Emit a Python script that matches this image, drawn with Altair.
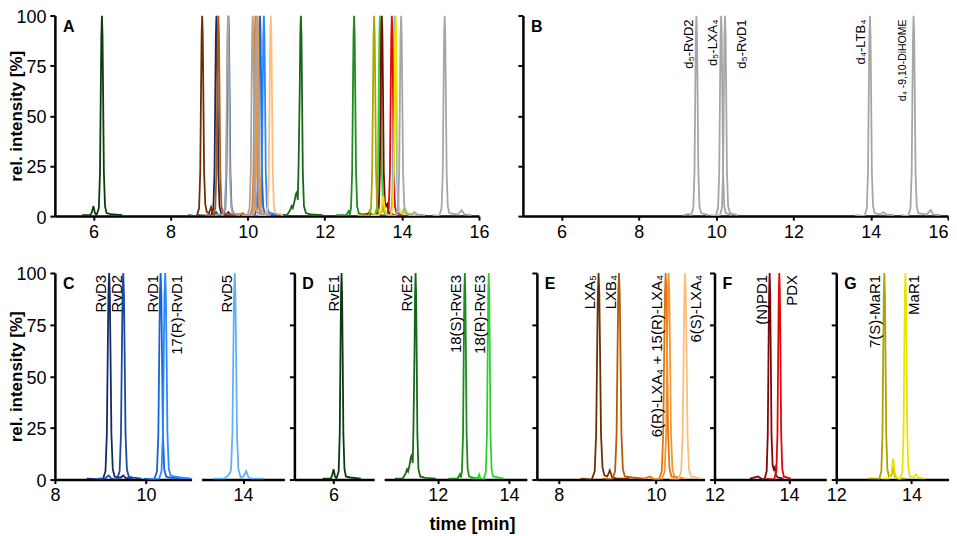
import altair as alt
import pandas as pd

FONT = "Liberation Sans"

# ---------------- trace data (time [min], rel. intensity [%]) ----------------
trace_names = ["RvD3", "RvD2", "RvD1", "17(R)-RvD1", "RvD5",
               "RvE1", "RvE2", "18(S)-RvE3", "18(R)-RvE3",
               "LXA5", "LXB4", "6(R)-LXA4", "15(R)-LXA4", "6(S)-LXA4",
               "(N)PD1", "PDX", "7(S)-MaR1", "MaR1",
               "d5-RvD2", "d5-LXA4", "d5-RvD1", "d4-LTB4", "d4-9,10-DiHOME"]
trace_panels = ["C", "C", "C", "C", "C",
                "D", "D", "D", "D",
                "E", "E", "E", "E", "E",
                "F", "F", "G", "G",
                "B", "B", "B", "B", "B"]
trace_colors = ["#152a66", "#1b4aa0", "#1662d8", "#2b88ff", "#62b0f8",
                "#0d3b10", "#1a6618", "#1f8a1d", "#2fd12f",
                "#6b3000", "#b65a08", "#e8720f", "#f3962f", "#ffbd7a",
                "#7c0808", "#e0080a", "#aca400", "#e8e400",
                "#a6a6a6", "#a6a6a6", "#a6a6a6", "#a6a6a6", "#a6a6a6"]

t_rvd3 = [8.70, 9.05, 9.11, 9.14, 9.16, 9.175, 9.19, 9.205, 9.22, 9.24, 9.27, 9.31, 9.37, 9.45, 9.50, 9.55, 9.70]
y_rvd3 = [0.5, 0, 4, 22, 62, 90, 100, 90, 62, 22, 5, 1.5, 1, 1, 2, 0.8, 0.5]

t_rvd2 = [8.95, 9.10, 9.18, 9.24, 9.36, 9.42, 9.45, 9.47, 9.485, 9.50, 9.515, 9.53, 9.55, 9.58, 9.62, 9.68, 9.90]
y_rvd2 = [0.5, 0.5, 2, 0.5, 0, 4, 22, 62, 90, 100, 90, 62, 22, 5, 1.5, 1, 0.5]

t_rvd1 = [9.95, 10.18, 10.24, 10.27, 10.29, 10.305, 10.32, 10.335, 10.35, 10.37, 10.40, 10.44, 10.50, 10.80]
y_rvd1 = [0.5, 0, 4, 22, 62, 90, 100, 90, 62, 22, 5, 1.5, 1, 0.5]

t_17rrvd1 = [10.05, 10.28, 10.34, 10.37, 10.39, 10.405, 10.42, 10.435, 10.45, 10.47, 10.50, 10.54, 10.60, 10.75, 11.0]
y_17rrvd1 = [0.5, 0, 4, 22, 62, 90, 100, 90, 62, 22, 5, 2, 1.5, 1, 0.5]

t_rvd5 = [13.35, 13.60, 13.68, 13.72, 13.74, 13.77, 13.79, 13.805, 13.82, 13.835, 13.85, 13.87, 13.90, 13.95, 14.01, 14.07, 14.12, 14.20, 14.45]
y_rvd5 = [0.5, 0.5, 2, 3.5, 5, 22, 62, 90, 100, 90, 62, 22, 5, 1, 1.5, 4, 1, 0.5, 0.5]

t_rve1 = [5.70, 5.92, 5.96, 6.00, 6.04, 6.08, 6.14, 6.17, 6.19, 6.205, 6.22, 6.235, 6.25, 6.27, 6.30, 6.34, 6.45, 6.75]
y_rve1 = [0.5, 0.5, 2, 5, 1.5, 0.5, 4, 22, 62, 90, 100, 90, 62, 22, 5, 1.5, 1, 0.5]

t_rve2 = [10.80, 11.02, 11.10, 11.14, 11.17, 11.21, 11.25, 11.28, 11.30, 11.32, 11.35, 11.365, 11.38, 11.395, 11.41, 11.43, 11.46, 11.51, 11.65, 11.95]
y_rve2 = [0.5, 0.5, 3, 5, 4, 7, 11, 12, 8, 25, 62, 90, 100, 90, 62, 22, 5, 1.5, 0.8, 0.5]

t_18srve3 = [12.30, 12.56, 12.62, 12.65, 12.68, 12.71, 12.73, 12.745, 12.76, 12.775, 12.79, 12.81, 12.84, 12.88, 12.95, 13.15]
y_18srve3 = [0.5, 0.5, 2.5, 1, 4, 22, 62, 90, 100, 90, 62, 22, 5, 1.5, 1, 0.5]

t_18rrve3 = [12.95, 13.12, 13.16, 13.20, 13.29, 13.35, 13.38, 13.40, 13.415, 13.43, 13.445, 13.46, 13.48, 13.51, 13.55, 13.85]
y_18rrve3 = [0.5, 0.5, 2.5, 0.5, 0, 4, 22, 62, 90, 100, 90, 62, 22, 5, 1.5, 0.5]

t_lxa5 = [8.45, 8.68, 8.74, 8.77, 8.79, 8.805, 8.82, 8.835, 8.85, 8.87, 8.90, 8.94, 9.00, 9.05, 9.10, 9.20, 9.45]
y_lxa5 = [0.5, 0, 4, 22, 62, 90, 100, 90, 62, 22, 6, 2, 1.5, 4.5, 1, 0.5, 0.5]

t_lxb4 = [8.90, 9.10, 9.16, 9.19, 9.21, 9.225, 9.24, 9.255, 9.27, 9.29, 9.32, 9.36, 9.50, 9.75]
y_lxb4 = [0.5, 0, 4, 22, 62, 90, 100, 90, 62, 22, 5, 1.5, 1, 0.5]

t_6rlxa4 = [9.75, 9.88, 9.95, 10.06, 10.12, 10.15, 10.17, 10.185, 10.20, 10.215, 10.23, 10.25, 10.28, 10.32, 10.50]
y_6rlxa4 = [0.5, 1.5, 0.5, 0, 4, 22, 62, 90, 100, 90, 62, 22, 5, 1.5, 0.5]

t_15rlxa4 = [9.90, 10.12, 10.18, 10.21, 10.23, 10.245, 10.26, 10.275, 10.29, 10.31, 10.34, 10.38, 10.60]
y_15rlxa4 = [0.5, 0, 4, 22, 62, 90, 100, 90, 62, 22, 5, 1.5, 0.5]

t_6slxa4 = [10.27, 10.46, 10.52, 10.55, 10.57, 10.585, 10.60, 10.615, 10.63, 10.65, 10.68, 10.72, 10.92]
y_6slxa4 = [0.5, 0, 4, 22, 62, 90, 100, 90, 62, 22, 5, 1.5, 0.5]

t_npd1 = [12.95, 13.17, 13.25, 13.34, 13.40, 13.43, 13.45, 13.465, 13.48, 13.495, 13.51, 13.53, 13.56, 13.59, 13.62, 13.65, 13.70, 13.85]
y_npd1 = [0.5, 1.5, 0.5, 0, 4, 22, 62, 90, 100, 90, 62, 22, 7, 5, 6, 2, 1, 0.5]

t_pdx = [13.40, 13.60, 13.66, 13.69, 13.71, 13.725, 13.74, 13.755, 13.77, 13.79, 13.82, 13.86, 14.05]
y_pdx = [0.5, 0, 4, 22, 62, 90, 100, 90, 62, 22, 5, 1.5, 0.5]

t_7smar1 = [12.85, 13.08, 13.14, 13.20, 13.23, 13.25, 13.265, 13.28, 13.295, 13.31, 13.33, 13.36, 13.40, 13.47, 13.52, 13.56, 13.64, 13.85]
y_7smar1 = [0.5, 0.5, 0, 4, 22, 62, 90, 100, 90, 62, 22, 5, 1.5, 2, 6, 1.5, 0.5, 0.5]

t_mar1 = [13.20, 13.40, 13.47, 13.50, 13.52, 13.55, 13.60, 13.70, 13.76, 13.79, 13.81, 13.825, 13.84, 13.855, 13.87, 13.89, 13.92, 13.96, 14.05, 14.12, 14.17, 14.35]
y_mar1 = [0.5, 0.5, 3, 9, 10, 4, 1, 0, 4, 22, 62, 90, 100, 90, 62, 22, 5, 1.5, 1, 2.5, 1, 0.5]

t_d5rvd2 = [9.15, 9.28, 9.35, 9.41, 9.44, 9.46, 9.475, 9.49, 9.505, 9.52, 9.54, 9.57, 9.61, 9.80]
y_d5rvd2 = [0.5, 1, 0.5, 4, 22, 62, 90, 100, 90, 62, 22, 5, 1.5, 0.5]

t_d5lxa4 = [9.85, 9.99, 10.05, 10.08, 10.10, 10.115, 10.13, 10.145, 10.16, 10.18, 10.21, 10.25, 10.40]
y_d5lxa4 = [0.5, 0, 4, 22, 62, 90, 100, 90, 62, 22, 5, 1.5, 0.5]

t_d5rvd1 = [10.00, 10.09, 10.15, 10.18, 10.20, 10.215, 10.23, 10.245, 10.26, 10.28, 10.31, 10.36, 10.55]
y_d5rvd1 = [0.5, 0, 4, 22, 62, 90, 100, 90, 62, 22, 5, 1.5, 0.5]

t_d4ltb4 = [13.60, 13.84, 13.90, 13.93, 13.95, 13.965, 13.98, 13.995, 14.01, 14.03, 14.06, 14.10, 14.25, 14.33, 14.40, 14.60]
y_d4ltb4 = [0.5, 0, 4, 22, 62, 90, 100, 90, 62, 22, 5, 1.5, 0.8, 2, 0.8, 0.5]

t_d4dihome = [14.80, 14.97, 15.03, 15.06, 15.08, 15.095, 15.11, 15.125, 15.14, 15.16, 15.19, 15.23, 15.45, 15.55, 15.62, 15.80]
y_d4dihome = [0.5, 0, 4, 22, 62, 90, 100, 90, 62, 22, 5, 1.5, 0.8, 3, 0.8, 0.5]

trace_times = [t_rvd3, t_rvd2, t_rvd1, t_17rrvd1, t_rvd5, t_rve1, t_rve2, t_18srve3, t_18rrve3,
               t_lxa5, t_lxb4, t_6rlxa4, t_15rlxa4, t_6slxa4, t_npd1, t_pdx, t_7smar1, t_mar1,
               t_d5rvd2, t_d5lxa4, t_d5rvd1, t_d4ltb4, t_d4dihome]
trace_vals = [y_rvd3, y_rvd2, y_rvd1, y_17rrvd1, y_rvd5, y_rve1, y_rve2, y_18srve3, y_18rrve3,
              y_lxa5, y_lxb4, y_6rlxa4, y_15rlxa4, y_6slxa4, y_npd1, y_pdx, y_7smar1, y_mar1,
              y_d5rvd2, y_d5lxa4, y_d5rvd1, y_d4ltb4, y_d4dihome]

# ---------------- peak labels ----------------
label_panel = ["C1", "C1", "C1", "C1", "C2", "D1", "D2", "D2", "D2",
               "E", "E", "E", "E", "F", "F", "G", "G",
               "B", "B", "B", "B", "B"]
label_text = ["RvD3", "RvD2", "RvD1", "17(R)-RvD1", "RvD5", "RvE1", "RvE2", "18(S)-RvE3", "18(R)-RvE3",
              "LXA₅", "LXB₄", "6(R)-LXA₄ + 15(R)-LXA₄", "6(S)-LXA₄", "(N)PD1", "PDX", "7(S)-MaR1", "MaR1",
              "d₅-RvD2", "d₅-LXA₄", "d₅-RvD1", "d₄-LTB₄", "d₄ -9,10-DiHOME"]
label_time = [9.01, 9.36, 10.16, 10.67, 13.65, 6.02, 11.15, 12.50, 13.18,
              8.64, 9.08, 10.02, 10.82, 13.27, 14.08, 13.04, 14.08,
              9.31, 9.93, 10.68, 13.75, 14.84]

y_ticks = [0, 25, 50, 75, 100]

rows = []
for name, panel, color, ts, ys in zip(trace_names, trace_panels, trace_colors, trace_times, trace_vals):
    for t, y in zip(ts, ys):
        rows.append({"trace": name, "panel": panel, "color": color, "t": t, "y": y})
lines = pd.DataFrame(rows)
labels = pd.DataFrame({"panel": label_panel, "text": label_text, "time": label_time})


def panel(trace_panel, label_key, domain, width, height, xticks, ymode,
          letter=None, xtitle=None, label_size=15, label_y=2, flush=False):
    df = lines if trace_panel is None else lines[lines["panel"] == trace_panel]
    xscale = alt.Scale(domain=domain, nice=False, zero=False)
    yscale = alt.Scale(domain=[0, 100], nice=False)
    xaxis_kw = dict(values=xticks, format="d", title=None, tickSize=4, tickWidth=2,
                    domainWidth=2.5, labelFontSize=18, labelPadding=3, labelFlush=flush)
    if xtitle is not None:
        xaxis_kw.update(title=xtitle, titleX=88, titleY=45, titleFontSize=18,
                        titleFontWeight="bold", titleBaseline="middle", titleAlign="center")
    xaxis = alt.Axis(**xaxis_kw)
    if ymode == "full":
        yaxis = alt.Axis(values=y_ticks, title="rel. intensity [%]", titleX=-38, titleY=height / 2,
                         titleAngle=270, titleBaseline="middle", titleAlign="center",
                         titleFontSize=17, titleFontWeight="bold", labelFontSize=18,
                         labelOffset=2, tickSize=5, tickWidth=2, labelPadding=4, domainWidth=2.5)
    elif ymode == "ticks":
        yaxis = alt.Axis(values=y_ticks, labels=False, title=None, tickSize=5, tickWidth=2,
                         domainWidth=2.5)
    else:
        yaxis = None
    layer = [
        alt.Chart(df).mark_line(strokeWidth=1.8, clip=True).encode(
            x=alt.X("t:Q", scale=xscale, axis=xaxis),
            y=alt.Y("y:Q", scale=yscale, axis=yaxis),
            color=alt.Color("color:N", scale=None),
            detail="trace:N",
        )
    ]
    if label_key is not None:
        ldf = labels[labels["panel"] == label_key]
        layer.append(
            alt.Chart(ldf).mark_text(angle=270, align="right", baseline="middle", font=FONT,
                                     color="black").encode(
                x=alt.X("time:Q", scale=xscale),
                y=alt.value(label_y),
                text="text:N",
                size=alt.condition(alt.datum.text == "d₄ -9,10-DiHOME", alt.value(10.5),
                                   alt.value(label_size)),
            )
        )
    if letter is not None:
        layer.append(
            alt.Chart(pd.DataFrame({"letter": [letter]})).mark_text(
                align="left", baseline="top", fontWeight="bold", fontSize=16, font=FONT,
                color="black").encode(x=alt.value(8), y=alt.value(3), text="letter:N")
        )
    return alt.layer(*layer).properties(width=width, height=height)


TOP_H = 201
BOT_H = 207

pA = panel(None, None, [5, 16], 425, TOP_H, [6, 8, 10, 12, 14, 16], "full", letter="A")
pB = panel("B", "B", [5, 16], 426, TOP_H, [6, 8, 10, 12, 14, 16], "ticks", letter="B",
           label_size=13, label_y=4, flush=True)

pC1 = panel("C", "C1", [8, 11], 137, BOT_H, [8, 10], "full", letter="C")
pC2 = panel("C", "C2", [13.1, 14.9], 83, BOT_H, [14], "none")
pD1 = panel("D", "D1", [4.92, 7.12], 80, BOT_H, [6], "ticks", letter="D")
pD2 = panel("D", "D2", [10.5, 14.5], 143, BOT_H, [12, 14], "none", xtitle="time [min]")
pE = panel("E", "E", [7.55, 11.0], 168, BOT_H, [8, 10], "ticks", letter="E")
pF = panel("F", "F", [12, 15], 112, BOT_H, [12, 14], "ticks", letter="F")
pG = panel("G", "G", [12, 15], 113, BOT_H, [12, 14], "ticks", letter="G")

top = alt.hconcat(pA, pB, spacing=44, bounds="flush")
bottom = alt.hconcat(pC1, pC2, pD1, pD2, pE, pF, pG, spacing=10, bounds="flush")

chart = alt.vconcat(top, bottom, spacing=25, bounds="full").properties(
    padding=0
).configure_view(stroke=None).configure_axis(
    labelFont=FONT, titleFont=FONT, domainColor="black", tickColor="black",
    labelColor="black", titleColor="black", grid=False
).configure_text(font=FONT)

chart.save("out.html", embed_options={"renderer": "svg", "actions": False})
